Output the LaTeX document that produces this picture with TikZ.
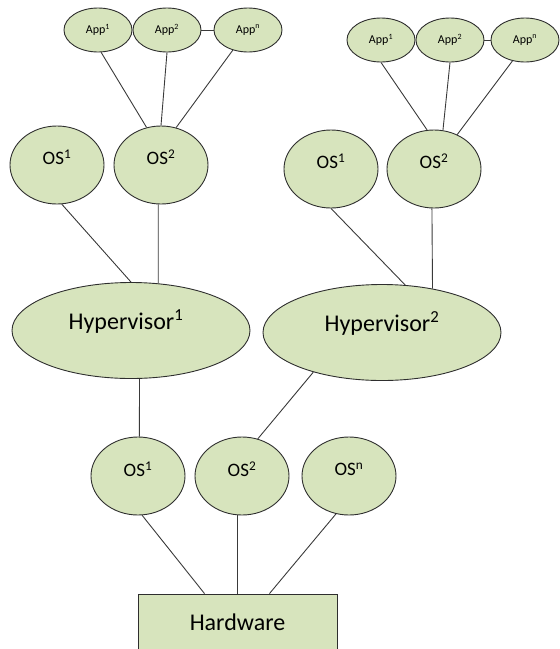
\documentclass[tikz,border=0pt]{standalone}
\usepackage{fontspec}
\setmainfont{Carlito}
\usetikzlibrary{shapes.geometric}
\definecolor{shapefill}{HTML}{D7E4BD}
\definecolor{shapeline}{HTML}{2E2E2E}
\definecolor{wirecol}{HTML}{3A3A3A}
\begin{document}
\begin{tikzpicture}[x=1pt,y=-1pt,
  ell/.style={ellipse, draw=shapeline, fill=shapefill, line width=0.9pt, inner sep=0pt},
  appell/.style={ell, minimum width=68pt, minimum height=44pt},
  osell/.style={ell, minimum width=94pt, minimum height=78pt},
  hypell/.style={ell, minimum width=238pt, minimum height=96pt},
  boxshape/.style={rectangle, draw=shapeline, fill=shapefill, line width=0.9pt, minimum width=199pt, minimum height=58pt, inner sep=0pt},
  apptext/.style={font=\fontsize{12}{14}\selectfont, text=black, inner sep=0pt},
  ostext/.style={font=\fontsize{19}{22}\selectfont, text=black, inner sep=0pt},
  bigtext/.style={font=\fontsize{24}{28}\selectfont, text=black, inner sep=0pt},
  wire/.style={draw=wirecol, line width=0.9pt}
]
\useasboundingbox (0,0) rectangle (560,649);
% top-left group
\node[appell] (la1) at (98,30) {};
\node[appell] (la2) at (167,30) {};
\node[appell] (la3) at (248,30) {};
\node[osell] (los1) at (57,165) {};
\node[osell] (los2) at (161,165) {};
\node[hypell] (h1) at (131,330.5) {};
% top-right group
\node[appell] (ra1) at (381,40) {};
\node[appell] (ra2) at (450,40) {};
\node[appell] (ra3) at (525,40) {};
\node[osell] (ros1) at (331,169) {};
\node[osell] (ros2) at (434,169) {};
\node[hypell] (h2) at (382,332.5) {};
% bottom group
\node[osell] (bos1) at (138,476) {};
\node[osell] (bos2) at (242,476) {};
\node[osell] (bos3) at (349,476) {};
\node[boxshape] (hw) at (237.5,623) {};
% texts
\node[apptext] (tla1) at (la1) {App\textsuperscript{1}};
\node[apptext] (tla2) at (la2) {App\textsuperscript{2}};
\node[apptext] (tla3) at (la3) {App\textsuperscript{n}};
\node[apptext] (tra1) at (ra1) {App\textsuperscript{1}};
\node[apptext] (tra2) at (ra2) {App\textsuperscript{2}};
\node[apptext] (tra3) at (ra3) {App\textsuperscript{n}};
\node[ostext] (tlos1) at ([yshift=8pt]los1.center) {OS\textsuperscript{1}};
\node[ostext] (tlos2) at ([yshift=8pt]los2.center) {OS\textsuperscript{2}};
\node[ostext] (tros1) at ([yshift=8pt]ros1.center) {OS\textsuperscript{1}};
\node[ostext] (tros2) at ([yshift=8pt]ros2.center) {OS\textsuperscript{2}};
\node[ostext] (tbos1) at ([yshift=7pt]bos1.center) {OS\textsuperscript{1}};
\node[ostext] (tbos2) at ([yshift=7pt]bos2.center) {OS\textsuperscript{2}};
\node[ostext] (tbos3) at ([yshift=7pt]bos3.center) {OS\textsuperscript{n}};
\node[bigtext] (th1) at ([xshift=-5pt,yshift=9pt]h1.center) {Hypervisor\textsuperscript{1}};
\node[bigtext] (th2) at ([yshift=9pt]h2.center) {Hypervisor\textsuperscript{2}};
\node[bigtext] (thw) at ([yshift=1pt]hw.center) {Hardware};
% connectors
\draw[wire] (la1.-82) -- (los2.111);
\draw[wire] (la2.south) -- (los2.north);
\draw[wire] (la3.-127) -- (los2.68);
\draw[wire] (la2.east) -- (la3.west);
\draw[wire] (ra1.south) -- (ros2.100);
\draw[wire] (ra2.south) -- (ros2.77);
\draw[wire] (ra3.-121) -- (ros2.56);
\draw[wire] (ra2.east) -- (ra3.west);
\draw[wire] (los1.-83) -- (h1.north);
\draw[wire] (los2.-94) -- (h1.60);
\draw[wire] (ros1.south) -- (h2.64);
\draw[wire] (ros2.-93) -- (h2.41);
\draw[wire] (h1.-80) -- (bos1.88);
\draw[wire] (h2.-150) -- (bos2.67);
\draw[wire] (bos1.-84) -- ([xshift=-33pt]hw.north);
\draw[wire] (bos2.-96) -- (bos2.-96 |- hw.north);
\draw[wire] (bos3.-109) -- ([xshift=32pt]hw.north);
\end{tikzpicture}
\end{document}
